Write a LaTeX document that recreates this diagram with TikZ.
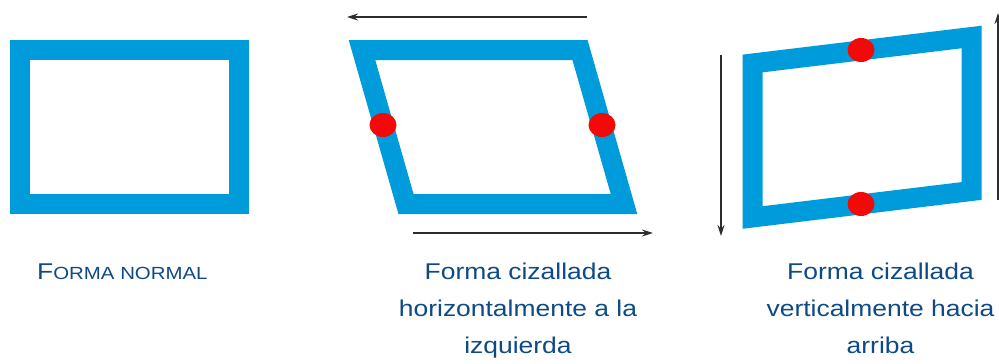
\documentclass[tikz,border=0pt]{standalone}
\usepackage{fontspec}
\usetikzlibrary{arrows.meta}
\newfontfamily\capfont[FakeStretch=1.16]{Liberation Sans}
\definecolor{shearblue}{RGB}{0,155,219}
\definecolor{capblue}{RGB}{14,74,134}
\definecolor{hingered}{RGB}{245,8,8}
\definecolor{forcegray}{RGB}{45,45,45}

\begin{document}
\begin{tikzpicture}[x=1pt, y=-1pt,
  frame/.style={draw=shearblue, line width=20pt, line join=miter},
  hinge/.style={fill=hingered, x radius=13.5pt, y radius=12pt},
  force/.style={draw=forcegray, line width=1.4pt, -{Stealth[length=11pt,width=7pt]}},
  caption/.style={inner sep=0pt, text=capblue, align=center,
                  font=\capfont\fontsize{22.8}{37}\selectfont}]

  \useasboundingbox (0,0) rectangle (999,364);

  % normal shape
  \draw[frame] (20,50) rectangle (239,204);
  \node[caption, anchor=base west] (normal) at (37,279)
       {F{\fontsize{17.6}{37}\selectfont ORMA NORMAL}};

  % horizontal shear
  \draw[frame] (362,50) -- (580,50) -- (624,204) -- (406,204) -- cycle;
  \fill[hinge] (383,125) ellipse [];
  \fill[hinge] (602,125) ellipse [];
  \coordinate (htopR) at (587,17);
  \coordinate (htopL) at (347,17);
  \coordinate (hbotL) at (413,233);
  \coordinate (hbotR) at (653,233);
  \draw[force] (htopR) -- (htopL);
  \draw[force] (hbotL) -- (hbotR);
  \node[caption, anchor=north] (horiz) at (518,262.5)
       {Forma cizallada\\horizontalmente a la\\izquierda};

  % vertical shear
  \draw[frame] (752.5,63.5) -- (971.5,37) -- (971.5,191) -- (752.5,217.5) -- cycle;
  \fill[hinge] (861,50) ellipse [];
  \fill[hinge] (861,204) ellipse [];
  \coordinate (vleftT) at (721,55);
  \coordinate (vleftB) at (721,236);
  \coordinate (vrightB) at (998,200);
  \coordinate (vrightT) at (998,13);
  \draw[force] (vleftT) -- (vleftB);
  \draw[force] (vrightB) -- (vrightT);
  \node[caption, anchor=north] (vert) at (880.5,262.5)
       {Forma cizallada\\verticalmente hacia\\arriba};
\end{tikzpicture}
\end{document}
